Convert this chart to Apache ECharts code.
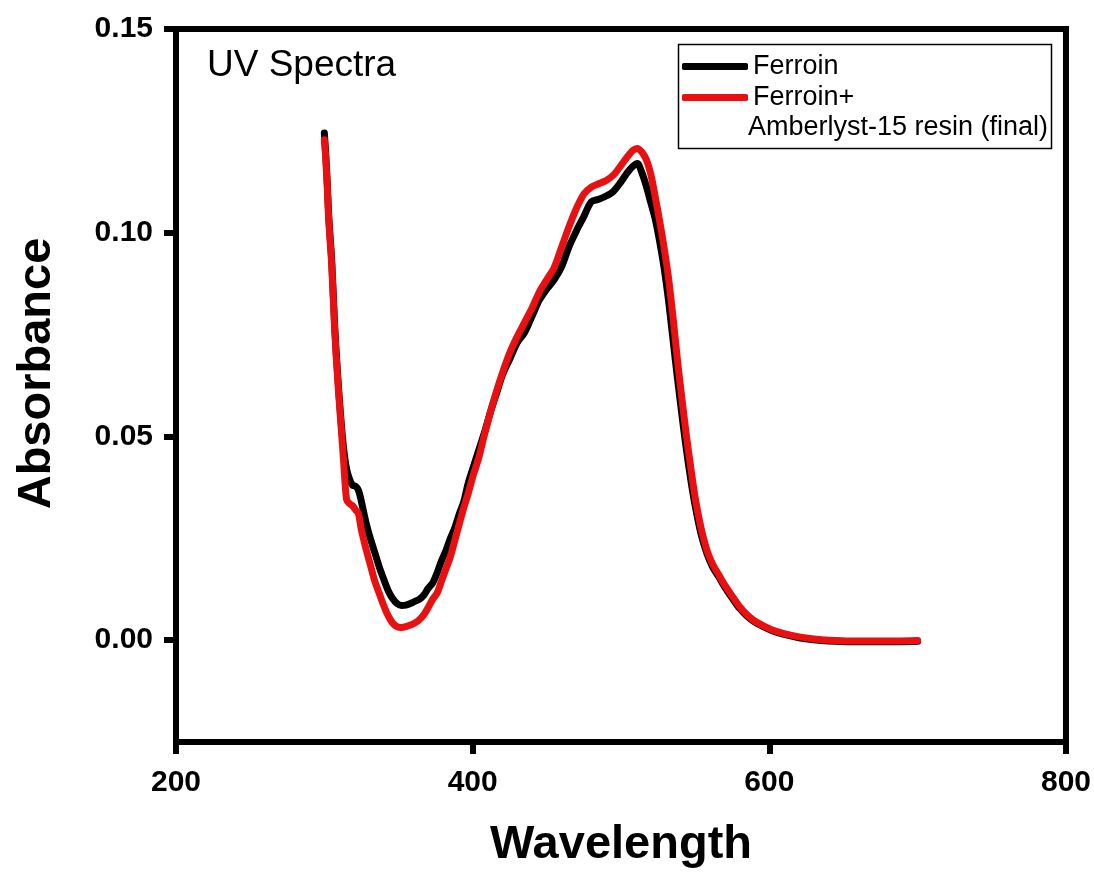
<!DOCTYPE html>
<html>
<head>
<meta charset="utf-8">
<title>UV Spectra</title>
<script src="https://cdn.jsdelivr.net/npm/echarts@6/dist/echarts.min.js"></script>
<style>
  html, body { margin: 0; padding: 0; background: #fff; }
  #chart { width: 1094px; height: 874px; }
</style>
</head>
<body>
<div id="chart"></div>
<script>
// wavelength grid (nm)
var wavelength = [300, 301, 302, 303, 305, 307, 309, 311, 313, 315, 317, 319, 321, 323, 325, 328, 331, 334, 337, 340,
  343, 346, 349, 352, 355, 358, 361, 364, 367, 370, 373, 376, 379, 382, 385, 388, 391, 394, 397, 400,
  404, 408, 412, 416, 420, 425, 430, 435, 440, 445, 450, 455, 460, 465, 470, 475, 480, 485, 490, 495,
  500, 504, 508, 511, 514, 517, 520, 523, 526, 529, 532, 535, 538, 541, 544, 547, 550, 554, 558, 562,
  566, 570, 575, 580, 585, 590, 596, 602, 610, 620, 630, 640, 655, 670, 685, 700];

// Ferroin
var ferroin = [0.1245, 0.119, 0.112, 0.104, 0.093, 0.077, 0.065, 0.055, 0.047, 0.042, 0.0395, 0.038, 0.0378, 0.0368, 0.034, 0.029, 0.025, 0.0215, 0.018, 0.015,
  0.0122, 0.0102, 0.009, 0.0085, 0.0086, 0.009, 0.0095, 0.010, 0.011, 0.0127, 0.014, 0.0165, 0.0195, 0.022, 0.025, 0.0276, 0.031, 0.034, 0.0385, 0.042,
  0.0465, 0.051, 0.056, 0.0605, 0.065, 0.069, 0.073, 0.0755, 0.0795, 0.0835, 0.0862, 0.0885, 0.0917, 0.0966, 0.1005, 0.104, 0.1076, 0.1082, 0.109, 0.1102,
  0.1125, 0.1146, 0.1163, 0.117, 0.1148, 0.1115, 0.1075, 0.1035, 0.098, 0.0915, 0.0835, 0.074, 0.0645, 0.0555, 0.047, 0.0395, 0.033, 0.026, 0.0212, 0.0178,
  0.0155, 0.013, 0.0103, 0.0078, 0.0059, 0.0045, 0.0033, 0.0023, 0.0014, 0.0006, 0.0001, -0.0002, -0.0004, -0.0004, -0.0004, -0.0003];

// Ferroin + Amberlyst-15 resin (final)
var ferroinResin = [0.1228, 0.118, 0.111, 0.103, 0.092, 0.076, 0.064, 0.054, 0.044, 0.0345, 0.0335, 0.033, 0.032, 0.031, 0.027, 0.0225, 0.0185, 0.0145, 0.0115, 0.0085,
  0.006, 0.0042, 0.0033, 0.0031, 0.0033, 0.0037, 0.0042, 0.005, 0.0062, 0.008, 0.01, 0.0115, 0.0145, 0.0175, 0.0205, 0.0245, 0.0285, 0.0325, 0.036, 0.040,
  0.0446, 0.0505, 0.056, 0.061, 0.0655, 0.0705, 0.0745, 0.078, 0.0815, 0.0855, 0.0885, 0.0915, 0.0965, 0.1015, 0.106, 0.1095, 0.1112, 0.112, 0.1128, 0.1142,
  0.1165, 0.1185, 0.1202, 0.1207, 0.1198, 0.118, 0.1145, 0.109, 0.103, 0.0965, 0.089, 0.0795, 0.069, 0.0595, 0.0505, 0.0425, 0.035, 0.0275, 0.022, 0.0185,
  0.016, 0.0135, 0.0108, 0.0082, 0.0062, 0.0047, 0.0035, 0.0025, 0.0016, 0.0008, 0.0003, 0.0, -0.0002, -0.0002, -0.0002, -0.0001];

var xTicks = [200, 400, 600, 800];
var yTicks = [0, 0.05, 0.10, 0.15];

var chart = echarts.init(document.getElementById("chart"));

function pairs(ys) {
  return wavelength.map(function (x, i) { return [x, ys[i]]; });
}

var font = "'Liberation Sans', Arial, sans-serif";

var option = {
  animation: false,
  backgroundColor: "#fff",
  grid: {
    left: 176,
    right: 28,
    top: 29,
    bottom: 128,
    show: true,
    borderColor: "#000",
    borderWidth: 6,
  },
  xAxis: {
    type: "value",
    min: 200,
    max: 800,
    interval: 200,
    splitLine: { show: false },
    axisLine: { onZero: false, lineStyle: { color: "#000", width: 6 } },
    axisTick: { customValues: xTicks, length: 12, lineStyle: { color: "#000", width: 6 } },
    axisLabel: {
      customValues: xTicks,
      margin: 26,
      color: "#000",
      fontSize: 30,
      fontWeight: "bold",
      fontFamily: font,
    },
    name: "Wavelength",
    nameLocation: "middle",
    nameGap: 80,
    nameTextStyle: { color: "#000", fontSize: 47, fontWeight: "bold", fontFamily: font },
  },
  yAxis: {
    type: "value",
    min: -0.025,
    max: 0.15,
    splitLine: { show: false },
    axisLine: { onZero: false, lineStyle: { color: "#000", width: 6 } },
    axisTick: { customValues: yTicks, length: 12, lineStyle: { color: "#000", width: 6 } },
    axisLabel: {
      customValues: yTicks,
      margin: 23,
      color: "#000",
      fontSize: 30,
      fontWeight: "bold",
      fontFamily: font,
      formatter: function (v) { return v.toFixed(2); },
    },
    name: "Absorbance",
    nameLocation: "middle",
    nameGap: 115,
    nameTextStyle: { color: "#000", fontSize: 47, fontWeight: "bold", fontFamily: font, padding: [0, 0, 0, 24] },
  },
  legend: {
    left: 677,
    top: 48,
    orient: "vertical",
    icon: "roundRect",
    itemWidth: 66,
    itemHeight: 7,
    itemGap: 4,
    textStyle: { color: "#000", fontSize: 27, fontFamily: font },
    data: ["Ferroin", "Ferroin+"],
  },
  graphic: [
    {
      type: "rect",
      left: 676,
      top: 42,
      shape: { width: 373, height: 104 },
      style: { fill: "none", stroke: "#000", lineWidth: 1.5 },
      silent: true,
    },
    {
      type: "text",
      left: 748,
      top: 114,
      style: { text: "Amberlyst-15 resin (final)", fill: "#000", fontSize: 27, fontFamily: font },
    },
    {
      type: "text",
      left: 207,
      top: 47,
      style: { text: "UV Spectra", fill: "#000", fontSize: 37, fontFamily: font },
    },
  ],
  series: [
    {
      name: "Ferroin",
      type: "line",
      data: pairs(ferroin),
      showSymbol: false,
      smooth: 0.3,
      lineStyle: { color: "#000", width: 7, cap: "round", join: "round" },
      itemStyle: { color: "#000" },
    },
    {
      name: "Ferroin+",
      type: "line",
      data: pairs(ferroinResin),
      showSymbol: false,
      smooth: 0.3,
      lineStyle: { color: "#e81010", width: 7, cap: "round", join: "round" },
      itemStyle: { color: "#e81010" },
    },
  ],
};

chart.setOption(option);
</script>
</body>
</html>
